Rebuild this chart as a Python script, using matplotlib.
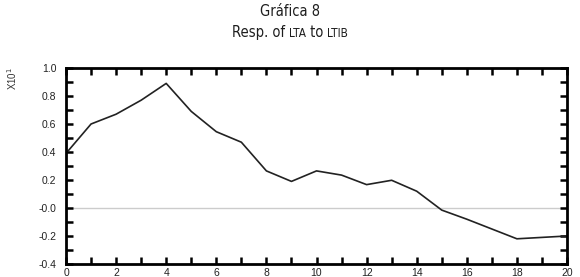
import matplotlib.pyplot as plt
import numpy as np
from matplotlib.ticker import MultipleLocator

# response of LTA to LTIB, periods 0..20 (values in units of x10^1)
periods = list(range(21))
response = [0.39, 0.60, 0.67, 0.77, 0.89, 0.69, 0.545, 0.47, 0.265, 0.19,
            0.265, 0.235, 0.167, 0.198, 0.12, -0.015, -0.08, -0.15, -0.22,
            -0.21, -0.20]
xticks = list(range(0, 21, 2))
yticks = [-0.4, -0.2, 0.0, 0.2, 0.4, 0.6, 0.8, 1.0]
ylabels = ['-0.4', '-0.2', '-0.0', '0.2', '0.4', '0.6', '0.8', '1.0']

plt.rcParams['font.family'] = ['Liberation Sans', 'DejaVu Sans']

W, H = 580, 277
fig = plt.figure(figsize=(W / 100, H / 100), dpi=100)
ax = fig.add_axes([66/W, 13/H, 501/W, 196/H])

ax.axhline(0, color='#cccccc', lw=1.0, zorder=1)
ax.plot(periods, response, color='#222222', lw=1.2, zorder=2)

ax.set_xlim(0, 20)
ax.set_ylim(-0.4, 1.0)
ax.set_xticks(xticks)
ax.set_yticks(yticks)
ax.set_yticklabels(ylabels)
ax.xaxis.set_minor_locator(MultipleLocator(1))
ax.yaxis.set_minor_locator(MultipleLocator(0.1))
ax.tick_params(which='both', direction='in', length=5, width=1.8,
               top=True, right=True, labelsize=7.5, labelcolor='#222222')
ax.tick_params(axis='y', pad=7)
ax.tick_params(axis='x', pad=3)
for s in ax.spines.values():
    s.set_linewidth(2)

# title lines in a condensed face, acronyms in a smaller size
cond = dict(family='DejaVu Sans', stretch='condensed', color='#1e1e1e')
fig.text(290/W, 1 - 16/H, 'Gráfica 8', ha='center', va='baseline',
         fontsize=10.5, **cond)

pieces = [('Resp. of ', 10.5), ('LTA', 8.5), (' to ', 10.5), ('LTIB', 8.5)]
renderer = fig.canvas.get_renderer()
texts = [fig.text(0, 1 - 37/H, s, ha='left', va='baseline', fontsize=fs, **cond)
         for s, fs in pieces]
widths = [t.get_window_extent(renderer).width for t in texts]
x = 290 - sum(widths) / 2
for t, w in zip(texts, widths):
    t.set_x(x / W)
    x += w

fig.text(12/W, 1 - 78/H, 'X10$^{1}$', rotation=90, ha='center',
         va='center', fontsize=7, color='#333333')

plt.savefig('out.png', dpi=100)
